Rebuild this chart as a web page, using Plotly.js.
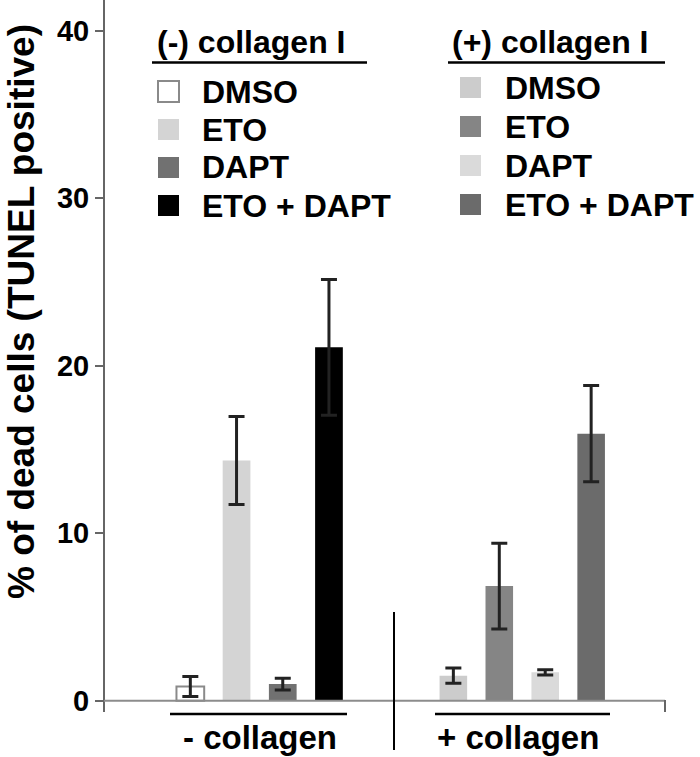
<!DOCTYPE html>
<html>
<head>
<meta charset="utf-8">
<script src="https://cdn.plot.ly/plotly-3.0.1.min.js"></script>
<style>html,body{margin:0;padding:0;background:#fff;}#chart{width:700px;height:757px;}</style>
</head>
<body>
<div id="chart"></div>
<script>
// ---- data ----
const treatments = ['DMSO', 'ETO', 'DAPT', 'ETO + DAPT'];
const noCollagenMean = [0.85, 14.35, 1.0, 21.1];
const noCollagenErr  = [0.6, 2.63, 0.35, 4.05];
const collagenMean   = [1.5, 6.85, 1.7, 15.95];
const collagenErr    = [0.45, 2.56, 0.16, 2.88];
const legendTitles   = ['(-) collagen I', '(+) collagen I'];
const groupLabels    = ['- collagen', '+ collagen'];
const yTickVals      = [0, 10, 20, 30, 40];
const yTitle         = '% of dead cells (TUNEL positive)';

// ---- styles ----
const noCollagenColors = ['#ffffff', '#d4d4d4', '#717171', '#000000'];
const noCollagenLineW  = [2, 0, 0, 0];
const collagenColors   = ['#cccccc', '#858585', '#dadada', '#6b6b6b'];
const FONT = '"Liberation Sans", Arial, Helvetica, sans-serif';

// plot box in pixels
const L = 104, R = 665, T = 0, B = 712;
const px2x = p => (p - L) / (R - L);
const px2y = p => (B - p) / (B - T);

const errStyle = {type: 'data', visible: true, color: '#222', thickness: 3, width: 8};

const traces = [
  {
    type: 'bar', x: treatments, y: noCollagenMean, xaxis: 'x', yaxis: 'y',
    marker: {color: noCollagenColors, line: {color: '#8a8a8a', width: noCollagenLineW}},
    error_y: Object.assign({array: noCollagenErr}, errStyle),
    showlegend: false, hoverinfo: 'x+y'
  },
  {
    type: 'bar', x: treatments, y: collagenMean, xaxis: 'x2', yaxis: 'y',
    marker: {color: collagenColors, line: {width: 0}},
    error_y: Object.assign({array: collagenErr}, errStyle),
    showlegend: false, hoverinfo: 'x+y'
  }
];

const shapes = [];
const annotations = [];

// baseline at y = 0 across plot
shapes.push({type: 'line', xref: 'paper', yref: 'y', x0: 0, x1: 1, y0: 0, y1: 0,
  line: {color: '#8c8c8c', width: 2}});
// small right end tick
shapes.push({type: 'line', xref: 'paper', yref: 'paper', x0: 1, x1: 1, y0: 0, y1: px2y(700),
  line: {color: '#666', width: 2}});
// divider between groups
shapes.push({type: 'line', xref: 'paper', yref: 'paper', x0: px2x(394), x1: px2x(394),
  y0: px2y(612), y1: px2y(750), line: {color: '#000', width: 2}});

// group underlines and labels
const underline = [[170, 347], [435, 610]];
const labelCx = [260, 518];
underline.forEach((u, i) => {
  shapes.push({type: 'line', xref: 'paper', yref: 'paper', x0: px2x(u[0]), x1: px2x(u[1]),
    y0: px2y(714), y1: px2y(714), line: {color: '#000', width: 2.5}});
  annotations.push({text: groupLabels[i], xref: 'paper', yref: 'paper',
    x: px2x(labelCx[i]), y: px2y(737), xanchor: 'center', yanchor: 'middle', showarrow: false,
    font: {family: FONT, size: 33, color: '#000', weight: 700}});
});

// legends
const legTitleX = [155, 450];
const legLine = [[152, 367], [448, 665]];
const legSwX = [158, 460];
const legTextX = [200, 503];
const legRowY0 = [91.5, 87.5];
const legStep = [38, 39];
const legColors = [noCollagenColors, collagenColors];
[0, 1].forEach(g => {
  annotations.push({text: legendTitles[g], xref: 'paper', yref: 'paper',
    x: px2x(legTitleX[g]), y: px2y(42), xanchor: 'left', yanchor: 'middle', showarrow: false,
    font: {family: FONT, size: 32, color: '#000', weight: 700}});
  shapes.push({type: 'line', xref: 'paper', yref: 'paper', x0: px2x(legLine[g][0]), x1: px2x(legLine[g][1]),
    y0: px2y(62.5), y1: px2y(62.5), line: {color: '#000', width: 2.5}});
  treatments.forEach((t, i) => {
    const cy = legRowY0[g] + i * legStep[g];
    const isOutline = (g === 0 && noCollagenLineW[i] > 0);
    shapes.push({type: 'rect', xref: 'paper', yref: 'paper',
      x0: px2x(legSwX[g]), x1: px2x(legSwX[g] + 21), y0: px2y(cy - 10.5), y1: px2y(cy + 10.5),
      fillcolor: legColors[g][i], line: {color: isOutline ? '#8a8a8a' : legColors[g][i], width: isOutline ? 2 : 0}});
    annotations.push({text: t, xref: 'paper', yref: 'paper',
      x: px2x(legTextX[g]), y: px2y(cy), xanchor: 'left', yanchor: 'middle', showarrow: false,
      font: {family: FONT, size: 32, color: '#000', weight: 700}});
  });
});

// y title
annotations.push({text: yTitle, xref: 'paper', yref: 'paper', x: px2x(21), y: px2y(312),
  xanchor: 'center', yanchor: 'middle', textangle: -90, showarrow: false,
  font: {family: FONT, size: 37, color: '#000', weight: 700}});

const layout = {
  width: 700, height: 757,
  margin: {l: L, r: 700 - R, t: T, b: 757 - B, pad: 0},
  paper_bgcolor: '#fff', plot_bgcolor: 'rgba(0,0,0,0)',
  bargap: 0.4, showlegend: false,
  font: {family: FONT, color: '#000'},
  xaxis: {domain: [0.1127, 0.4422], anchor: 'y', type: 'category', range: [-0.5, 3.5],
    showticklabels: false, showline: false, showgrid: false, zeroline: false, ticks: ''},
  xaxis2: {domain: [0.5818, 0.9093], anchor: 'y', type: 'category', range: [-0.5, 3.5],
    showticklabels: false, showline: false, showgrid: false, zeroline: false, ticks: ''},
  yaxis: {anchor: 'free', position: 0, range: [-0.67, 41.84], tickvals: yTickVals,
    ticks: 'outside', ticklen: 8, tickwidth: 2, tickcolor: '#666',
    showline: true, linecolor: '#666', linewidth: 2, showgrid: false, zeroline: false,
    tickfont: {family: FONT, size: 29, color: '#000', weight: 700}},
  shapes: shapes,
  annotations: annotations
};

Plotly.newPlot('chart', traces, layout, {displayModeBar: false, staticPlot: true});
</script>
</body>
</html>
